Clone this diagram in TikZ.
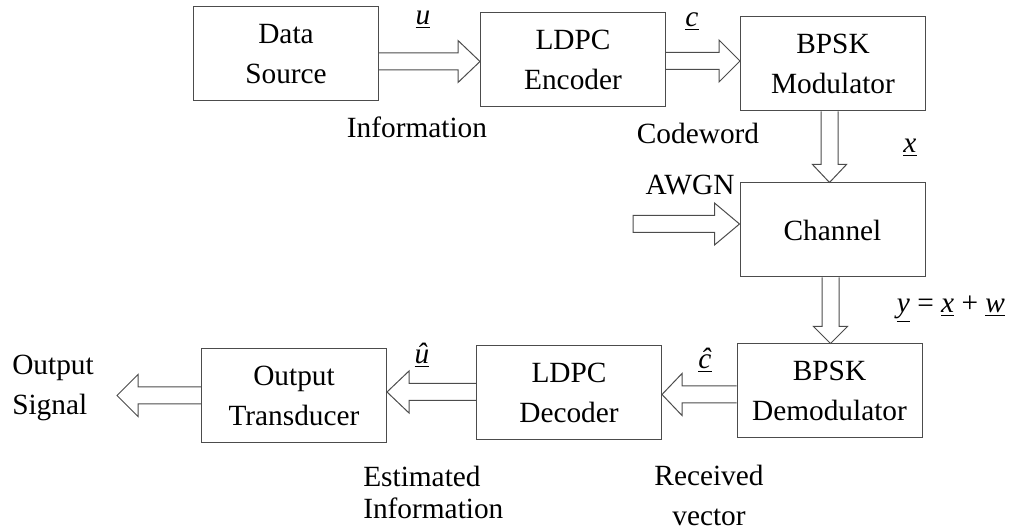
\documentclass[tikz,border=0pt]{standalone}
\usepackage{fontspec}
\setmainfont{Liberation Serif}
\usetikzlibrary{calc}
% horizontal block arrow: #1 tail coordinate, #2 tip coordinate, #3 signed head length (towards tail)
\newcommand\HArr[3]{\draw[barr] ($(#1)+(0,-8.5)$) -- ($(#2)+(#3,-8.5)$) -- ($(#2)+(#3,-21)$) -- (#2) -- ($(#2)+(#3,21)$) -- ($(#2)+(#3,8.5)$) -- ($(#1)+(0,8.5)$);}
\newcommand\HArrClosed[3]{\draw[barr] ($(#1)+(0,-8.5)$) -- ($(#2)+(#3,-8.5)$) -- ($(#2)+(#3,-21)$) -- (#2) -- ($(#2)+(#3,21)$) -- ($(#2)+(#3,8.5)$) -- ($(#1)+(0,8.5)$) -- cycle;}
\newcommand\VArr[3]{\draw[barr] ($(#1)+(-8.5,0)$) -- ($(#2)+(-8.5,#3)$) -- ($(#2)+(-17,#3)$) -- (#2) -- ($(#2)+(17,#3)$) -- ($(#2)+(8.5,#3)$) -- ($(#1)+(8.5,0)$);}
\begin{document}
\begin{tikzpicture}[x=0.75pt,y=-0.75pt,
  every node/.style={inner sep=0pt, text=black},
  txt/.style={font=\fontsize{22}{30}\selectfont},
  box/.style={draw=black!70, line width=0.75pt, minimum width=185*0.75pt, minimum height=94*0.75pt, align=center, txt},
  barr/.style={draw=black!70, line width=0.75pt, line join=miter},
  lbl/.style={txt, anchor=base}]
\useasboundingbox (0,0) rectangle (1022,530);

% blocks
\node[box] (src)   at (286,54)    {Data\\Source};
\node[box] (enc)   at (573,60)    {LDPC\\Encoder};
\node[box] (mod)   at (833,64)    {BPSK\\Modulator};
\node[box] (chan)  at (832.5,230) {Channel};
\node[box] (demod) at (829.5,391) {BPSK\\Demodulator};
\node[box] (dec)   at (569,392.5) {LDPC\\Decoder};
\node[box] (out)   at (294,395.5) {Output\\Transducer};

% arrow end points
\coordinate (a1s) at (src.east |- 0,61.5);
\coordinate (a1e) at (enc.west |- 0,61.5);
\coordinate (a2s) at (enc.east |- 0,61);
\coordinate (a2e) at (mod.west |- 0,61);
\coordinate (a3s) at (mod.south -| 829.5,0);
\coordinate (a3e) at (chan.north -| 829.5,0);
\coordinate (awgnT) at (633,224);
\coordinate (a4e) at (chan.west |- 0,224);
\coordinate (a5s) at (chan.south -| 830.5,0);
\coordinate (a5e) at (demod.north -| 830.5,0);
\coordinate (a6s) at (demod.west |- 0,394.5);
\coordinate (a6e) at (dec.east |- 0,394.5);
\coordinate (a7s) at (dec.west |- 0,392);
\coordinate (a7e) at (out.east |- 0,392);
\coordinate (a8s) at (out.west |- 0,395.5);
\coordinate (outT) at (117,395.5);

% block arrows
\HArr{a1s}{a1e}{-22}
\HArr{a2s}{a2e}{-21}
\VArr{a3s}{a3e}{-18}
\HArrClosed{awgnT}{a4e}{-25}
\VArr{a5s}{a5e}{-17}
\HArr{a6s}{a6e}{20}
\HArr{a7s}{a7e}{22}
\HArr{a8s}{outT}{21}

% labels
\node[lbl] (lu)    at (423,25)  {\underline{\textit{u}}};
\node[lbl] (lc)    at (692,27)  {\underline{\textit{c}}};
\node[lbl] (lx)    at (910,153) {\underline{\textit{x}}};
\node[lbl] (ly)    at (951,313) {\underline{\textit{y}} = \underline{\textit{x}} + \underline{\textit{w}}};
\node[lbl] (lch)   at (705,369) {\underline{\textit{ĉ}}};
\node[lbl] (luh)   at (422,364) {\underline{\textit{û}}};
\node[lbl] (info)  at (417,138) {Information};
\node[lbl] (cw)    at (698,144) {Codeword};
\node[lbl] (awgn)  at (690,195) {AWGN};
\node[txt, align=center] (rv) at (709,495) {Received\\vector};
\node[font=\fontsize{22}{23.5}\selectfont, align=left, anchor=west] (est) at (363,492.5) {Estimated\\Information};
\node[txt, align=left, anchor=west] (osig) at (12,388) {Output\\Signal};
\end{tikzpicture}
\end{document}
